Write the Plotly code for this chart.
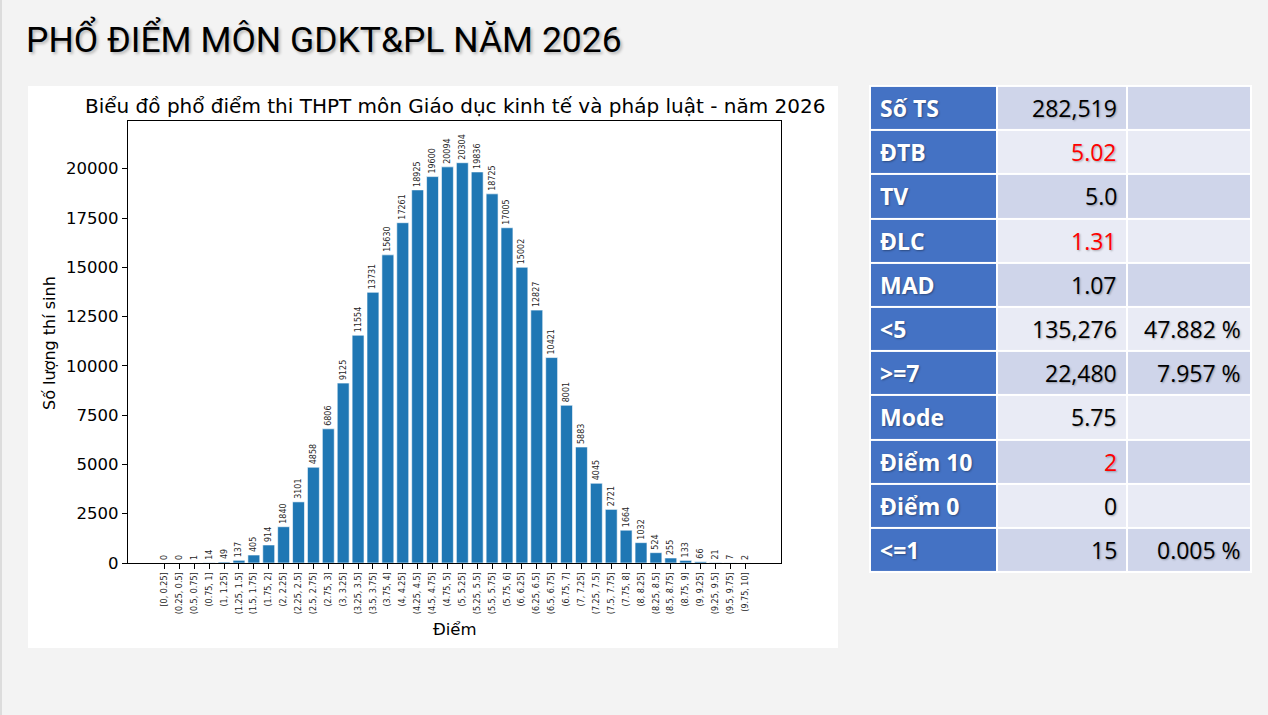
import plotly.graph_objects as go

W, H = 1268, 715

# ---------------- data ----------------
bins = ["[0, 0.25]", "(0.25, 0.5]", "(0.5, 0.75]", "(0.75, 1]", "(1, 1.25]",
        "(1.25, 1.5]", "(1.5, 1.75]", "(1.75, 2]", "(2, 2.25]", "(2.25, 2.5]",
        "(2.5, 2.75]", "(2.75, 3]", "(3, 3.25]", "(3.25, 3.5]", "(3.5, 3.75]",
        "(3.75, 4]", "(4, 4.25]", "(4.25, 4.5]", "(4.5, 4.75]", "(4.75, 5]",
        "(5, 5.25]", "(5.25, 5.5]", "(5.5, 5.75]", "(5.75, 6]", "(6, 6.25]",
        "(6.25, 6.5]", "(6.5, 6.75]", "(6.75, 7]", "(7, 7.25]", "(7.25, 7.5]",
        "(7.5, 7.75]", "(7.75, 8]", "(8, 8.25]", "(8.25, 8.5]", "(8.5, 8.75]",
        "(8.75, 9]", "(9, 9.25]", "(9.25, 9.5]", "(9.5, 9.75]", "(9.75, 10]"]
counts = [0, 0, 1, 14, 49, 137, 405, 914, 1840, 3101,
          4858, 6806, 9125, 11554, 13731, 15630, 17261, 18925, 19600, 20094,
          20304, 19836, 18725, 17005, 15002, 12827, 10421, 8001, 5883, 4045,
          2721, 1664, 1032, 524, 255, 133, 66, 21, 7, 2]
y_ticks = [0, 2500, 5000, 7500, 10000, 12500, 15000, 17500, 20000]

stat_labels = ["Số TS", "ĐTB", "TV", "ĐLC", "MAD", "<5", ">=7", "Mode",
               "Điểm 10", "Điểm 0", "<=1"]
stat_values = ["282,519", "5.02", "5.0", "1.31", "1.07", "135,276", "22,480",
               "5.75", "2", "0", "15"]
stat_percent = ["", "", "", "", "", "47.882 %", "7.957 %", "", "", "", "0.005 %"]
highlighted = ["ĐTB", "ĐLC", "Điểm 10"]

main_title = "PHỔ ĐIỂM MÔN GDKT&PL NĂM 2026"
chart_title = "Biểu đồ phổ điểm thi THPT môn Giáo dục kinh tế và pháp luật - năm 2026"
x_label = "Điểm"
y_label = "Số lượng thí sinh"

# ---------------- layout helpers ----------------
def px_x(v):
    return v / W

def px_y(v):
    return 1 - v / H

col_edges = [0, 127, 258, 382]          # table column boundaries (px)
BLUE = "#4472c4"
ROW_DARK = "#cfd5ea"
ROW_LIGHT = "#e9ebf5"

fig = go.Figure()

# ---------------- histogram ----------------
fig.add_trace(go.Bar(
    x=bins, y=counts, width=0.8,
    marker=dict(color="#1f77b4", line=dict(color="white", width=0.6)),
    text=[str(c) for c in counts], textposition="outside", textangle=-90,
    textfont=dict(family="DejaVu Sans", size=8, color="#262626"),
    constraintext="none", cliponaxis=False, hoverinfo="x+y",
    xaxis="x", yaxis="y",
))

# ---------------- stats table (heatmap cells + text) ----------------
n = len(stat_labels)
rows = list(range(n))
z = [[2, i % 2, i % 2] for i in rows]
fig.add_trace(go.Heatmap(
    x=col_edges, y=rows, z=z, zmin=0, zmax=2,
    colorscale=[[0, ROW_DARK], [0.5, ROW_LIGHT], [1, BLUE]],
    xgap=2, ygap=2, showscale=False, hoverinfo="skip",
    xaxis="x2", yaxis="y2",
))

annotations = []
pad = 8
for i, lab in enumerate(stat_labels):
    annotations.append(dict(
        text="<b>%s</b>" % lab, xref="x2", yref="y2", x=col_edges[0] + pad, y=i,
        xanchor="left", yanchor="middle", showarrow=False,
        font=dict(family="Open Sans", size=23, color="white",
                  shadow="1px 1px 2px rgba(0,0,0,0.35)")))
    annotations.append(dict(
        text=stat_values[i], xref="x2", yref="y2", x=col_edges[2] - pad, y=i,
        xanchor="right", yanchor="middle", showarrow=False,
        font=dict(family="Open Sans", size=23,
                  color="#ff0000" if lab in highlighted else "#000000",
                  shadow="1px 1px 2px rgba(0,0,0,0.3)")))
    if stat_percent[i]:
        annotations.append(dict(
            text=stat_percent[i], xref="x2", yref="y2", x=col_edges[3] - pad, y=i,
            xanchor="right", yanchor="middle", showarrow=False,
            font=dict(family="Open Sans", size=23, color="#000000",
                      shadow="1px 1px 2px rgba(0,0,0,0.3)")))

annotations += [
    dict(text=main_title, xref="paper", yref="paper", x=px_x(24), y=px_y(38),
         xanchor="left", yanchor="middle", showarrow=False,
         font=dict(family="Roboto", size=35.5, color="black",
                   shadow="2px 2px 3px rgba(0,0,0,0.25)")),
    dict(text=chart_title, xref="paper", yref="paper", x=px_x(455), y=px_y(106),
         xanchor="center", yanchor="middle", showarrow=False,
         font=dict(family="DejaVu Sans", size=20, color="black")),
    dict(text=x_label, xref="paper", yref="paper", x=px_x(455), y=px_y(629),
         xanchor="center", yanchor="middle", showarrow=False,
         font=dict(family="DejaVu Sans", size=16.5, color="black")),
    dict(text=y_label, xref="paper", yref="paper", x=px_x(49), y=px_y(343),
         xanchor="center", yanchor="middle", showarrow=False, textangle=-90,
         font=dict(family="DejaVu Sans", size=16, color="black")),
]

axis_common = dict(showline=True, linecolor="black", linewidth=1.3, mirror=True,
                   ticks="outside", ticklen=5, tickwidth=1.2, tickcolor="black",
                   showgrid=False, zeroline=False, automargin=False)
hidden = dict(visible=False, showgrid=False, zeroline=False, fixedrange=True,
              automargin=False)

fig.update_layout(
    width=W, height=H, autosize=False,
    margin=dict(l=0, r=0, t=0, b=0, pad=0, autoexpand=False),
    paper_bgcolor="#f3f3f3",
    plot_bgcolor="white",
    showlegend=False,
    xaxis=dict(domain=[px_x(128), px_x(781)], range=[-2.45, 41.4], type="category",
               tickangle=-90, tickfont=dict(family="DejaVu Sans", size=8, color="#222"),
               **axis_common),
    yaxis=dict(domain=[px_y(563), px_y(121)], range=[0, 22420], tickvals=y_ticks,
               ticktext=[str(v) for v in y_ticks],
               tickfont=dict(family="DejaVu Sans", size=16.5, color="black"),
               **axis_common),
    xaxis2=dict(domain=[px_x(869), px_x(1252)], range=[col_edges[0] - 1, col_edges[-1] + 1],
                anchor="y2", **hidden),
    yaxis2=dict(domain=[px_y(573), px_y(85)], range=[n - 0.5 + 0.02, -0.5 - 0.02],
                anchor="x2", **hidden),
    shapes=[
        dict(type="rect", xref="paper", yref="paper", layer="below",
             x0=px_x(28), x1=px_x(838), y0=px_y(648), y1=px_y(86),
             fillcolor="white", line=dict(width=0)),
        dict(type="line", xref="paper", yref="paper",
             x0=px_x(1), x1=px_x(1), y0=0, y1=1,
             line=dict(color="#d4d4d4", width=1.5)),
    ],
    annotations=annotations,
)

post = (
    "document.body.style.margin='0';"
    "document.documentElement.style.overflow='hidden';"
    "document.body.style.overflow='hidden';"
    "var gd=document.getElementById('{plot_id}');"
    "gd.style.width='%dpx';gd.style.height='%dpx';"
    "Plotly.relayout(gd,{width:%d,height:%d,autosize:false});" % (W, H, W, H)
)

fig.write_html("out.html",
               config={"responsive": False, "displayModeBar": False},
               post_script=post)
